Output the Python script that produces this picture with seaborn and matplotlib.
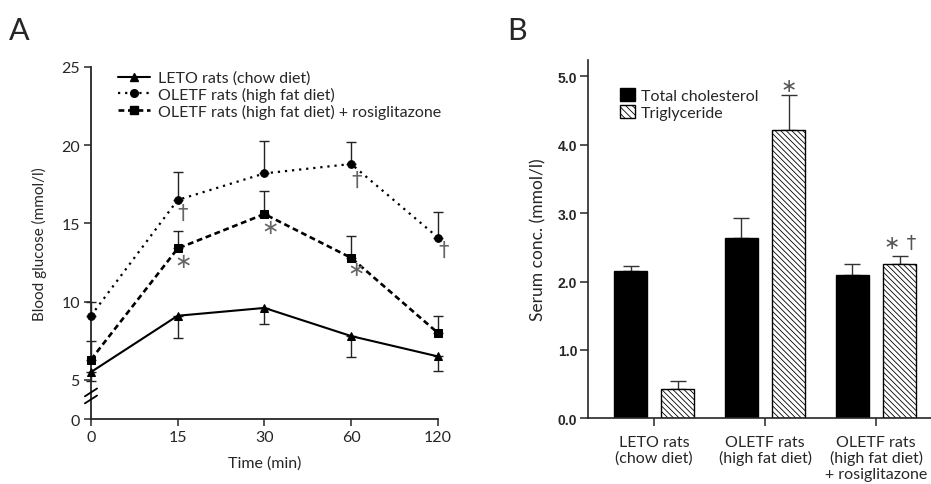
import matplotlib
matplotlib.use('Agg')
import matplotlib.pyplot as plt
import seaborn as sns
import pandas as pd
from matplotlib.lines import Line2D
from matplotlib.patches import Patch

# Panel A: blood glucose during the glucose tolerance test
times = ['0', '15', '30', '60', '120']
leto_glucose = [5.5, 9.1, 9.6, 7.8, 6.5]
leto_err = [0.6, 1.45, 1.05, 1.35, 0.9]
oletf_glucose = [9.1, 16.5, 18.2, 18.8, 14.1]
oletf_err = [0.9, 1.8, 2.1, 1.4, 1.6]
rosi_glucose = [6.3, 13.4, 15.6, 12.8, 8.0]
rosi_err = [1.2, 1.1, 1.45, 1.4, 1.1]
series_labels = ['LETO rats (chow diet)',
                 'OLETF rats (high fat diet)',
                 'OLETF rats (high fat diet) + rosiglitazone']
# significance marks: (time index, y value, symbol)
marks_a = [(1, 15.7, '\u2020'), (1, 12.6, '\u2217'), (2, 14.8, '\u2217'),
           (3, 17.8, '\u2020'), (3, 12.1, '\u2217'), (4, 13.3, '\u2020')]

# Panel B: serum lipids
groups = ['LETO rats\n(chow diet)', 'OLETF rats\n(high fat diet)',
          'OLETF rats\n(high fat diet)\n+ rosiglitazone']
lipids = ['Total cholesterol', 'Triglyceride']
cholesterol = [2.16, 2.63, 2.10]
cholesterol_err = [0.06, 0.30, 0.16]
triglyceride = [0.43, 4.22, 2.26]
triglyceride_err = [0.11, 0.51, 0.12]
marks_b = [(1, 4.87, '\u2217'), (2, 2.57, '\u2217 \u2020')]

sns.set_style('ticks')
plt.rcParams['font.family'] = ['Lato', 'DejaVu Sans']
plt.rcParams['hatch.linewidth'] = 0.6
plt.rcParams['hatch.color'] = '#333333'

fig = plt.figure(figsize=(9.31, 4.85), dpi=100)

# ---------------- Panel A ----------------
ax = fig.add_axes([0.0977, 0.1340, 0.3727, 0.7258])
pos = list(range(len(times)))
styles = [('^', (None, None), 1.5, leto_glucose, leto_err, -1),
          ('o', (1.0, 2.2), 1.6, oletf_glucose, oletf_err, 1),
          ('s', (2.2, 1.4), 1.9, rosi_glucose, rosi_err, 1)]
for marker, dash, lw, vals, errs, side in styles:
    line_kw = dict(color='black', marker=marker, linewidth=lw, markersize=5.5,
                   markeredgecolor='black', clip_on=False, zorder=3)
    if dash[0] is not None:
        line_kw['dashes'] = dash
    sns.lineplot(x=pos, y=vals, ax=ax, **line_kw)
    if side < 0:
        yerr = [errs, [0] * len(errs)]
    else:
        yerr = [[0] * len(errs), errs]
    ax.errorbar(pos, vals, yerr=yerr, fmt='none', ecolor='#222222',
                elinewidth=1.0, capsize=3.5, capthick=1.0, clip_on=False, zorder=2)

for i, y, s in marks_a:
    ax.text(i + 0.06, y, s, ha='center', va='center', fontsize=15,
            color='#666666', family='DejaVu Sans')

ax.set_xlim(0, 4)
ax.set_ylim(2.5, 25)
ax.set_xticks(pos)
ax.set_xticklabels(times)
ax.set_yticks([2.5, 5, 10, 15, 20, 25])
ax.set_yticklabels(['0', '5', '10', '15', '20', '25'])
ax.tick_params(labelsize=11.5, length=5, width=1.1, pad=3)
for sp in ['left', 'bottom']:
    ax.spines[sp].set_linewidth(1.3)
sns.despine(ax=ax)
ax.set_xlabel('Time (min)', fontsize=11.5, labelpad=8)
ax.set_ylabel('Blood glucose (mmol/l)', fontsize=11, labelpad=10)

# axis break marks
for c in [3.75, 4.2]:
    ax.plot([-0.07, 0.07], [c - 0.25, c + 0.25], color='black', lw=1.3,
            clip_on=False, zorder=5)

handles = []
for m, dash, lw, _, _, _ in styles:
    h = Line2D([], [], color='black', marker=m, linewidth=lw, markersize=5.5)
    if dash[0] is not None:
        h.set_dashes(dash)
    handles.append(h)
ax.legend(handles, series_labels, loc='upper left', bbox_to_anchor=(0.055, 1.012),
          frameon=False, fontsize=11.5, handlelength=2.0, handletextpad=0.5,
          labelspacing=0.12, borderpad=0)

fig.text(0.010, 0.9175, 'A', fontsize=22)

# ---------------- Panel B ----------------
df = pd.DataFrame({
    'group': groups * 2,
    'lipid': [lipids[0]] * 3 + [lipids[1]] * 3,
    'value': cholesterol + triglyceride,
})
errs_b = [cholesterol_err, triglyceride_err]

bx = fig.add_axes([0.6319, 0.1355, 0.3681, 0.7388])
sns.barplot(data=df, x='group', y='value', hue='lipid', ax=bx,
            palette=['black', 'white'], edgecolor='black', linewidth=1.0,
            width=0.854, gap=0.3, errorbar=None, legend=False, zorder=2)
bar_conts = list(bx.containers)
for k, cont in enumerate(bar_conts):
    for gi, (bar, e) in enumerate(zip(cont, errs_b[k])):
        if k == 1:
            bar.set_hatch('\\\\\\\\\\\\')
        xc = bar.get_x() + bar.get_width() / 2
        bx.errorbar(xc, bar.get_height(), yerr=[[0], [e]], fmt='none',
                    ecolor='#333333', elinewidth=1.0, capsize=6, capthick=1.0,
                    zorder=1)
        if k == 1:
            for mi, y, s in marks_b:
                if mi == gi:
                    bx.text(xc, y, s, ha='center', va='center', fontsize=14,
                            color='#555555', family='DejaVu Sans')

bx.set_xlim(-0.594, 2.495)
bx.set_ylim(0, 5.24)
bx.set_yticks([0, 1, 2, 3, 4, 5])
bx.set_yticklabels(['0.0', '1.0', '2.0', '3.0', '4.0', '5.0'],
                   family='Liberation Sans', fontweight='bold', fontsize=10)
bx.tick_params(axis='y', length=6, width=1.1, pad=2)
bx.tick_params(axis='x', length=6, width=1.1, pad=6, labelsize=11.5)
for lab in bx.get_xticklabels():
    lab.set_linespacing(1.12)
    lab.set_verticalalignment('top')
for sp in ['left', 'bottom']:
    bx.spines[sp].set_linewidth(1.2)
sns.despine(ax=bx)
bx.set_xlabel('')
bx.set_ylabel('Serum conc. (mmol/l)', fontsize=12.5, labelpad=8)

legend_b = [Patch(facecolor='black', edgecolor='black'),
            Patch(facecolor='white', edgecolor='black', hatch='\\\\\\\\\\')]
bx.legend(legend_b, lipids, loc='upper left', bbox_to_anchor=(0.07, 0.945),
          frameon=False, fontsize=11.5, handlelength=0.9, handleheight=0.9,
          handletextpad=0.4, labelspacing=0.12, borderpad=0)

fig.text(0.545, 0.9175, 'B', fontsize=22)

fig.savefig('out.png', dpi=100)
